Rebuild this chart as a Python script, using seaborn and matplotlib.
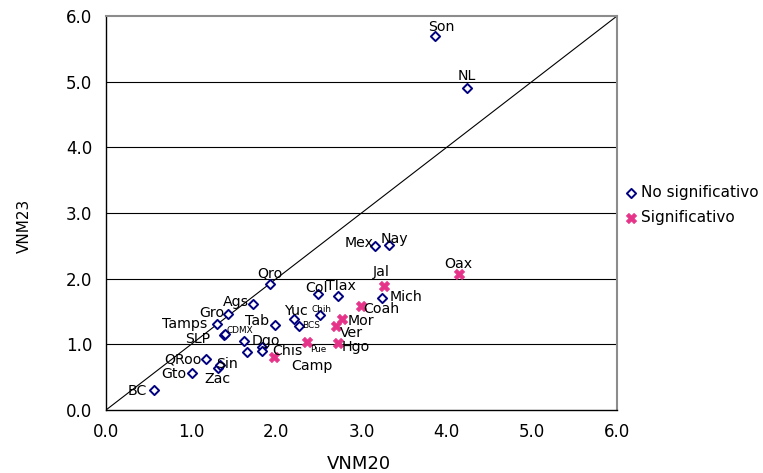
import matplotlib
matplotlib.use("Agg")
import matplotlib.pyplot as plt
import seaborn as sns
import pandas as pd

# ---------------- data ----------------
estados_ns = ["Son", "NL", "Mex", "Nay", "Mich", "Col", "Tlax", "Yuc", "Chih", "BCS",
              "Tab", "Qro", "Ags", "Gro", "Tamps", "SLP", "CDMX", "Dgo", "", "Chis", "",
              "QRoo", "Sin", "Zac", "Gto", "BC"]
vnm20_ns = [3.86, 4.24, 3.16, 3.32, 3.24, 2.49, 2.72, 2.21, 2.51, 2.27,
            1.98, 1.92, 1.73, 1.43, 1.30, 1.39, 1.40, 1.62, 1.65, 1.83, 1.83,
            1.17, 1.32, 1.34, 1.01, 0.56]
vnm23_ns = [5.70, 4.90, 2.49, 2.51, 1.70, 1.77, 1.74, 1.38, 1.44, 1.28,
            1.30, 1.92, 1.62, 1.46, 1.31, 1.14, 1.15, 1.05, 0.88, 0.96, 0.90,
            0.78, 0.64, 0.68, 0.56, 0.30]

estados_s = ["Oax", "Jal", "Coah", "Mor", "Ver", "Hgo", "Pue", "Camp"]
vnm20_s = [4.14, 3.27, 2.99, 2.77, 2.70, 2.72, 2.36, 1.97]
vnm23_s = [2.07, 1.89, 1.58, 1.39, 1.28, 1.02, 1.03, 0.81]

ticks = [0, 1, 2, 3, 4, 5, 6]
tick_labels = ["0.0", "1.0", "2.0", "3.0", "4.0", "5.0", "6.0"]
series_names = ["No significativo", "Significativo"]
small_labels = ["Chih", "BCS", "CDMX", "Pue"]

# label placement (offset in pixels, horizontal alignment)
label_pos = {
    "Son": (7, 9, "center"), "NL": (0, 12.5, "center"), "Mex": (-2, 3.5, "right"),
    "Nay": (6, 6, "center"), "Oax": (0, 10, "center"), "Jal": (-3, 14, "center"),
    "Mich": (8, 1, "left"), "Coah": (3, -2.5, "left"), "Mor": (6, -2, "left"),
    "Ver": (4, -7.5, "left"), "Hgo": (4, -3.5, "left"), "Pue": (11, -7, "center"),
    "Camp": (38, -9, "center"), "Chis": (10, -4.5, "left"), "Col": (-2, 6, "center"),
    "Tlax": (3.4, 10, "center"), "Yuc": (2, 8, "center"), "Chih": (1.5, 6, "center"),
    "BCS": (3, 0, "left"), "Tab": (-6, 3.5, "right"), "Qro": (0, 10, "center"),
    "Ags": (-4.7, 2, "right"), "Gro": (-3.7, 1, "right"), "Tamps": (-9.6, 0, "right"),
    "CDMX": (1, 4, "left"), "SLP": (-14.3, -4, "right"), "Dgo": (8, 0, "left"),
    "QRoo": (-4.3, -1, "right"), "Sin": (-2, 4, "left"), "Zac": (-3, -13.6, "center"),
    "Gto": (-6, -1, "right"), "BC": (-6.7, -1, "right"),
}

df_ns = pd.DataFrame({"estado": estados_ns, "VNM20": vnm20_ns, "VNM23": vnm23_ns})
df_s = pd.DataFrame({"estado": estados_s, "VNM20": vnm20_s, "VNM23": vnm23_s})

# ---------------- style ----------------
sns.set_style("white")
plt.rcParams["font.family"] = ["DejaVu Sans"]
plt.rcParams["text.color"] = "black"

fig = plt.figure(figsize=(7.63, 4.73), dpi=100)
ax = fig.add_axes([106 / 763, 63 / 473, 511 / 763, 394 / 473])

# gridlines and diagonal
for t in ticks[1:-1]:
    ax.axhline(t, color="black", lw=0.8, zorder=1)
ax.plot([ticks[0], ticks[-1]], [ticks[0], ticks[-1]], color="black", lw=0.8, zorder=1)

sns.scatterplot(data=df_ns, x="VNM20", y="VNM23", marker="D", s=22,
                color="white", edgecolor="#000080", linewidth=1.4,
                label=series_names[0], ax=ax, zorder=3)
sns.scatterplot(data=df_s, x="VNM20", y="VNM23", marker="X", s=55,
                color="#E6338A", edgecolor="#E6338A", linewidth=0.5,
                label=series_names[1], ax=ax, zorder=3)

for df in (df_ns, df_s):
    for name, x, y in zip(df["estado"], df["VNM20"], df["VNM23"]):
        if not name:
            continue
        dx, dy, ha = label_pos[name]
        ax.annotate(name, (x, y), xytext=(dx, dy), textcoords="offset pixels",
                    ha=ha, va="center",
                    fontsize=6.4 if name in small_labels else 10.2, color="black",
                    zorder=4)

ax.set_xlim(ticks[0], ticks[-1])
ax.set_ylim(ticks[0], ticks[-1])
ax.set_xticks(ticks)
ax.set_xticklabels(tick_labels)
ax.set_yticks(ticks)
ax.set_yticklabels(tick_labels)
ax.tick_params(axis="both", direction="out", length=4, width=0.8, color="black",
               labelsize=12, labelcolor="black")
ax.tick_params(axis="x", pad=5)
ax.tick_params(axis="y", pad=6)

for side in ("top", "right"):
    ax.spines[side].set_color("#8c8c8c")
    ax.spines[side].set_linewidth(1.5)
for side in ("left", "bottom"):
    ax.spines[side].set_color("black")
    ax.spines[side].set_linewidth(1.0)

ax.set_xlabel("VNM20", fontsize=13, color="black")
ax.set_ylabel("VNM23", fontsize=11, color="black")
ax.xaxis.set_label_coords(0.495, -0.115)
ax.yaxis.set_label_coords(-0.145, 0.467)

leg = ax.legend(loc="center left", frameon=False, fontsize=11,
                handlelength=0.6, handletextpad=0.4, labelspacing=0.65,
                borderaxespad=0, borderpad=0)
leg.set_bbox_to_anchor((626 / 763, 0.5666), transform=fig.transFigure)
for txt in leg.get_texts():
    txt.set_color("black")

fig.savefig("out.png", dpi=100)
